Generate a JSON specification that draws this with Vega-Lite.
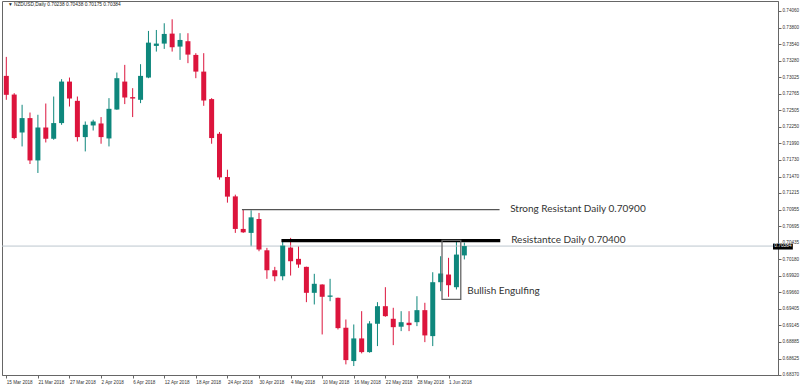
{
  "$schema": "https://vega.github.io/schema/vega-lite/v6.json",
  "width": 776,
  "height": 374,
  "autosize": {"type": "none"},
  "padding": {"left": 2, "top": 1, "right": 22, "bottom": 11},
  "background": "white",
  "config": {"view": {"stroke": "#666666", "strokeWidth": 1}, "font": "Liberation Sans", "axis": {"labelOverlap": false, "labelFlush": false, "labelBound": false, "grid": false}},
  "datasets": {
    "candles": [
      {"d":"2018-03-15","i":0,"o":0.73045,"h":0.73342,"l":0.72671,"c":0.72749},
      {"d":"2018-03-16","i":1,"o":0.72753,"h":0.72775,"l":0.72054,"c":0.72073},
      {"d":"2018-03-19","i":2,"o":0.72160,"h":0.72593,"l":0.71942,"c":0.72385},
      {"d":"2018-03-20","i":3,"o":0.72385,"h":0.72472,"l":0.71667,"c":0.71723},
      {"d":"2018-03-21","i":4,"o":0.71723,"h":0.72437,"l":0.71527,"c":0.72238},
      {"d":"2018-03-22","i":5,"o":0.72238,"h":0.72613,"l":0.72004,"c":0.72062},
      {"d":"2018-03-23","i":6,"o":0.72062,"h":0.72722,"l":0.72046,"c":0.72307},
      {"d":"2018-03-26","i":7,"o":0.72307,"h":0.72994,"l":0.72280,"c":0.72956},
      {"d":"2018-03-27","i":8,"o":0.72956,"h":0.73019,"l":0.72566,"c":0.72691},
      {"d":"2018-03-28","i":9,"o":0.72655,"h":0.72722,"l":0.72020,"c":0.72088},
      {"d":"2018-03-29","i":10,"o":0.72088,"h":0.72332,"l":0.71864,"c":0.72280},
      {"d":"2018-03-30","i":11,"o":0.72270,"h":0.72359,"l":0.72191,"c":0.72332},
      {"d":"2018-04-02","i":12,"o":0.72301,"h":0.72401,"l":0.71984,"c":0.72088},
      {"d":"2018-04-03","i":13,"o":0.72067,"h":0.72697,"l":0.71942,"c":0.72530},
      {"d":"2018-04-04","i":14,"o":0.72519,"h":0.73097,"l":0.72515,"c":0.73009},
      {"d":"2018-04-05","i":15,"o":0.72956,"h":0.73217,"l":0.72604,"c":0.72707},
      {"d":"2018-04-06","i":16,"o":0.72713,"h":0.72853,"l":0.72401,"c":0.72691},
      {"d":"2018-04-09","i":17,"o":0.72671,"h":0.73228,"l":0.72619,"c":0.73045},
      {"d":"2018-04-10","i":18,"o":0.73019,"h":0.73748,"l":0.73009,"c":0.73565},
      {"d":"2018-04-11","i":19,"o":0.73514,"h":0.73763,"l":0.73425,"c":0.73550},
      {"d":"2018-04-12","i":20,"o":0.73550,"h":0.73868,"l":0.73467,"c":0.73701},
      {"d":"2018-04-13","i":21,"o":0.73706,"h":0.73930,"l":0.73425,"c":0.73493},
      {"d":"2018-04-16","i":22,"o":0.73503,"h":0.73712,"l":0.73295,"c":0.73607},
      {"d":"2018-04-17","i":23,"o":0.73587,"h":0.73712,"l":0.73244,"c":0.73378},
      {"d":"2018-04-18","i":24,"o":0.73373,"h":0.73400,"l":0.73009,"c":0.73112},
      {"d":"2018-04-19","i":25,"o":0.73112,"h":0.73400,"l":0.72577,"c":0.72660},
      {"d":"2018-04-20","i":26,"o":0.72682,"h":0.72697,"l":0.71984,"c":0.72073},
      {"d":"2018-04-23","i":27,"o":0.72140,"h":0.72167,"l":0.71422,"c":0.71458},
      {"d":"2018-04-24","i":28,"o":0.71464,"h":0.71578,"l":0.71063,"c":0.71157},
      {"d":"2018-04-25","i":29,"o":0.71161,"h":0.71188,"l":0.70590,"c":0.70652},
      {"d":"2018-04-26","i":30,"o":0.70652,"h":0.70954,"l":0.70590,"c":0.70599},
      {"d":"2018-04-27","i":31,"o":0.70590,"h":0.70943,"l":0.70381,"c":0.70833},
      {"d":"2018-04-30","i":32,"o":0.70808,"h":0.70902,"l":0.70303,"c":0.70329},
      {"d":"2018-05-01","i":33,"o":0.70318,"h":0.70356,"l":0.69872,"c":0.70006},
      {"d":"2018-05-02","i":34,"o":0.70006,"h":0.70059,"l":0.69834,"c":0.69912},
      {"d":"2018-05-03","i":35,"o":0.69912,"h":0.70470,"l":0.69850,"c":0.70392},
      {"d":"2018-05-04","i":36,"o":0.70360,"h":0.70512,"l":0.69923,"c":0.70147},
      {"d":"2018-05-07","i":37,"o":0.70184,"h":0.70381,"l":0.70044,"c":0.70095},
      {"d":"2018-05-08","i":38,"o":0.70059,"h":0.70062,"l":0.69507,"c":0.69653},
      {"d":"2018-05-09","i":39,"o":0.69653,"h":0.69950,"l":0.69471,"c":0.69794},
      {"d":"2018-05-10","i":40,"o":0.69783,"h":0.69786,"l":0.69002,"c":0.69591},
      {"d":"2018-05-11","i":41,"o":0.69591,"h":0.69872,"l":0.69522,"c":0.69611},
      {"d":"2018-05-14","i":42,"o":0.69575,"h":0.69578,"l":0.69080,"c":0.69101},
      {"d":"2018-05-15","i":43,"o":0.69107,"h":0.69236,"l":0.68534,"c":0.68601},
      {"d":"2018-05-16","i":44,"o":0.68586,"h":0.69158,"l":0.68508,"c":0.68940},
      {"d":"2018-05-17","i":45,"o":0.68940,"h":0.69366,"l":0.68706,"c":0.68726},
      {"d":"2018-05-18","i":46,"o":0.68726,"h":0.69210,"l":0.68717,"c":0.69174},
      {"d":"2018-05-21","i":47,"o":0.69169,"h":0.69507,"l":0.68820,"c":0.69444},
      {"d":"2018-05-22","i":48,"o":0.69444,"h":0.69741,"l":0.69279,"c":0.69288},
      {"d":"2018-05-23","i":49,"o":0.69247,"h":0.69419,"l":0.68835,"c":0.69116},
      {"d":"2018-05-24","i":50,"o":0.69123,"h":0.69366,"l":0.69054,"c":0.69194},
      {"d":"2018-05-25","i":51,"o":0.69185,"h":0.69366,"l":0.69054,"c":0.69148},
      {"d":"2018-05-28","i":52,"o":0.69194,"h":0.69600,"l":0.69132,"c":0.69382},
      {"d":"2018-05-29","i":53,"o":0.69382,"h":0.69497,"l":0.68882,"c":0.68987},
      {"d":"2018-05-30","i":54,"o":0.68976,"h":0.69975,"l":0.68820,"c":0.69819},
      {"d":"2018-05-31","i":55,"o":0.69819,"h":0.70225,"l":0.69678,"c":0.69955},
      {"d":"2018-06-01","i":56,"o":0.69939,"h":0.70200,"l":0.69591,"c":0.69772},
      {"d":"2018-06-04","i":57,"o":0.69741,"h":0.70485,"l":0.69705,"c":0.70251},
      {"d":"2018-06-05","i":58,"o":0.70238,"h":0.70438,"l":0.70175,"c":0.70384}
    ]
  },
  "layer": [
    {
      "data": {"name": "candles"},
      "mark": {"type": "rule", "strokeWidth": 1, "clip": true},
      "encoding": {
        "x": {
          "field": "i", "type": "quantitative",
          "scale": {"domain": [0.0875, 97.0875], "nice": false, "zero": false},
          "axis": {
            "orient": "bottom", "title": null, "grid": false, "tickCount": 40,
            "values": [0, 4, 8, 12, 16, 20, 24, 28, 32, 36, 40, 44, 48, 52, 56],
            "labelExpr": "['15 Mar 2018','21 Mar 2018','27 Mar 2018','2 Apr 2018','6 Apr 2018','12 Apr 2018','18 Apr 2018','24 Apr 2018','30 Apr 2018','4 May 2018','10 May 2018','16 May 2018','22 May 2018','28 May 2018','1 Jun 2018'][round(datum.value/4)]",
            "labelAlign": "left", "labelDx": 1, "labelPadding": 1, "labelFontSize": 4.6, "labelColor": "#333333",
            "tickSize": 3, "tickColor": "#666666", "domainColor": "#666666",
            "labelFlush": false, "labelOverlap": false, "labelBound": false
          }
        },
        "y": {
          "field": "l", "type": "quantitative",
          "scale": {"domain": [0.68368, 0.74216], "nice": false, "zero": false},
          "axis": {
            "orient": "right", "title": null, "grid": false, "format": ".5f", "tickCount": 40,
            "values": [0.74060, 0.73800, 0.73540, 0.73280, 0.73025, 0.72765, 0.72505, 0.72250, 0.71990, 0.71730, 0.71470, 0.71215, 0.70955, 0.70695, 0.70435, 0.70180, 0.69920, 0.69660, 0.69405, 0.69145, 0.68885, 0.68625, 0.68370],
            "labelFontSize": 4.6, "labelColor": "#333333", "labelPadding": 1,
            "tickSize": 3, "tickColor": "#666666", "domainColor": "#666666",
            "labelFlush": false, "labelOverlap": false, "labelBound": false
          }
        },
        "y2": {"field": "h"},
        "color": {"condition": {"test": "datum.c >= datum.o", "value": "#0e877c"}, "value": "#dc143c"}
      }
    },
    {
      "data": {"values": [{"p": 0.70384}]},
      "mark": {"type": "rule", "color": "#bcc6ce", "strokeWidth": 1},
      "encoding": {"y": {"field": "p", "type": "quantitative"}}
    },
    {
      "data": {"name": "candles"},
      "mark": {"type": "bar", "size": 5, "clip": true},
      "encoding": {
        "x": {"field": "i", "type": "quantitative"},
        "y": {"field": "o", "type": "quantitative"},
        "y2": {"field": "c"},
        "color": {"condition": {"test": "datum.c >= datum.o", "value": "#0e877c"}, "value": "#dc143c"}
      }
    },
    {
      "data": {"values": [{"x1": 29.84, "x2": 62.46, "y": 0.70954}]},
      "mark": {"type": "rule", "color": "#555555", "strokeWidth": 1.4},
      "encoding": {"x": {"field": "x1", "type": "quantitative"}, "x2": {"field": "x2"}, "y": {"field": "y", "type": "quantitative"}}
    },
    {
      "data": {"values": [{"x1": 34.84, "x2": 62.55, "y": 0.70470}]},
      "mark": {"type": "rule", "color": "#000000", "strokeWidth": 3.2},
      "encoding": {"x": {"field": "x1", "type": "quantitative"}, "x2": {"field": "x2"}, "y": {"field": "y", "type": "quantitative"}}
    },
    {
      "data": {"values": [{"x1": 55.175, "x2": 57.55, "y1": 0.70474, "y2": 0.69549}]},
      "mark": {"type": "rect", "fill": null, "fillOpacity": 0, "stroke": "#666666", "strokeWidth": 1.3},
      "encoding": {"x": {"field": "x1", "type": "quantitative"}, "x2": {"field": "x2"}, "y": {"field": "y1", "type": "quantitative"}, "y2": {"field": "y2"}}
    },
    {
      "data": {"values": [
        {"t": "Strong Resistant Daily 0.70900", "x": 63.8, "y": 0.70965},
        {"t": "Resistantce Daily 0.70400", "x": 63.93, "y": 0.70481},
        {"t": "Bullish Engulfing", "x": 58.375, "y": 0.69674}
      ]},
      "mark": {"type": "text", "align": "left", "baseline": "middle", "font": "Lato", "fontSize": 10, "color": "#333333"},
      "encoding": {"x": {"field": "x", "type": "quantitative"}, "y": {"field": "y", "type": "quantitative"}, "text": {"field": "t"}}
    },
    {
      "data": {"values": [{"t": "▼ NZDUSD,Daily  0.70238 0.70438 0.70175 0.70384", "x": 0.2, "y": 0.74154}]},
      "mark": {"type": "text", "align": "left", "baseline": "middle", "fontSize": 4.8, "color": "#222222"},
      "encoding": {"x": {"field": "x", "type": "quantitative"}, "y": {"field": "y", "type": "quantitative"}, "text": {"field": "t"}}
    },
    {
      "data": {"values": [{"x1": 97.09, "x2": 99.6, "y1": 0.70423, "y2": 0.70330}]},
      "mark": {"type": "rect", "color": "#000000", "clip": false},
      "encoding": {"x": {"field": "x1", "type": "quantitative"}, "x2": {"field": "x2"}, "y": {"field": "y1", "type": "quantitative"}, "y2": {"field": "y2"}}
    },
    {
      "data": {"values": [{"x": 97.25, "y": 0.70384, "t": "0.70384"}]},
      "mark": {"type": "text", "align": "left", "baseline": "middle", "fontSize": 4.8, "color": "#ffffff", "clip": false},
      "encoding": {"x": {"field": "x", "type": "quantitative"}, "y": {"field": "y", "type": "quantitative"}, "text": {"field": "t"}}
    }
  ]
}
